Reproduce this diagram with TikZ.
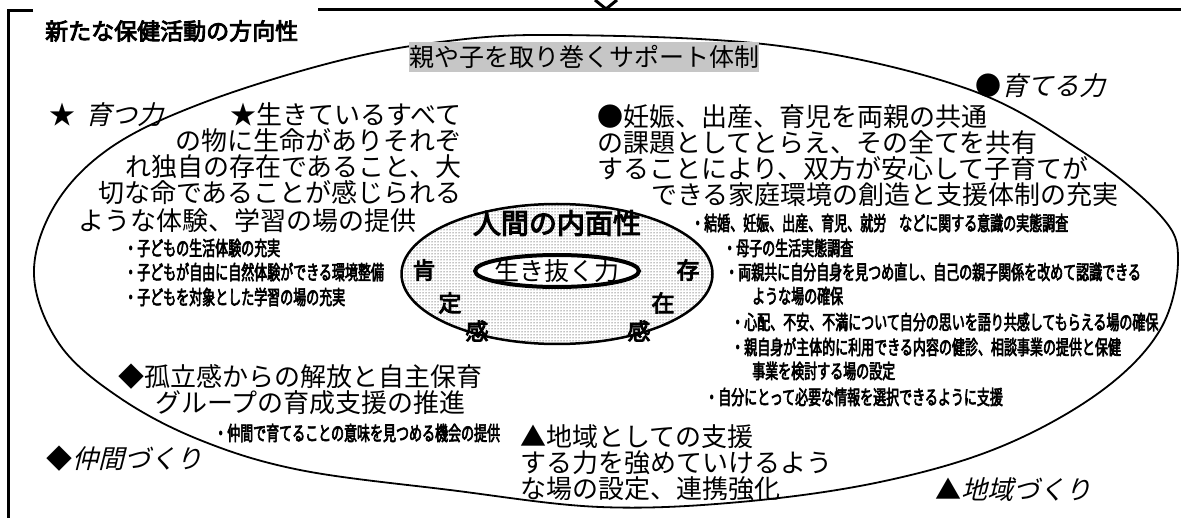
\documentclass[tikz,border=0pt]{standalone}
\usepackage{fontspec}
\setmainfont{Noto Sans CJK JP}[AutoFakeSlant=0.25, AutoFakeBold=4]
\newfontfamily\narrowjp{Noto Sans CJK JP}[FakeStretch=0.65, FakeBold=3]
\usetikzlibrary{shapes.geometric, patterns}
\tikzstyle{body} = [inner sep=0pt, font=\fontsize{26}{26}\selectfont]
\tikzstyle{note} = [inner sep=0pt, anchor=west, font=\narrowjp\fontsize{20}{24}\selectfont]
\tikzstyle{kanji} = [inner sep=0pt, font=\bfseries\fontsize{23}{23}\selectfont]

\begin{document}
\begin{tikzpicture}[x=1pt, y=-1pt]
\useasboundingbox (0,0) rectangle (1181,518);
% frame
\draw[line width=3pt] (33,11) -- (8,11) -- (8,518);
\draw[line width=3pt] (318,10) -- (1181,10);
\draw[line width=3pt] (595,0) -- (606,9) -- (617,0);
\node (title) [anchor=west, inner sep=0pt, font=\bfseries\fontsize{23}{23}\selectfont] at (45,31) {新たな保健活動の方向性};

% outer ellipse
\draw[line width=1.8pt] plot[smooth cycle, tension=0.6] coordinates {
  (560,35) (780,46) (965,88) (1080,150) (1160,215) (1178,260) (1160,330)
  (1100,392) (1000,447) (880,482) (740,502) (600,507) (450,490) (300,470)
  (200,440) (120,398) (60,345) (34,275) (55,205) (110,148) (200,104)
  (330,63) (440,42)};
\node (support) [body, font=\fontsize{25}{25}\selectfont, fill=gray!45, minimum width=348, minimum height=30] at (584,57) {親や子を取り巻くサポート体制};

% inner ellipses
\node (naimen) [ellipse, draw, line width=2.5pt, pattern=dots, minimum width=311, minimum height=140, inner sep=0pt] at (557,274) {};
\node (ikinuku) [ellipse, draw, line width=4pt, fill=white, minimum width=164, minimum height=32, inner sep=0pt] at (557,271) {};
\node (ikinukutext) [body, font=\fontsize{25}{25}\selectfont] at (ikinuku) {生き抜く力};
\node (jinkan) [kanji, font=\bfseries\fontsize{28}{28}\selectfont] at (557,223) {人間の内面性};
\node (kou) [kanji] at (424,270) {肯};
\node (tei) [kanji] at (450,303) {定};
\node (kan1) [kanji] at (477,331) {感};
\node (son) [kanji] at (688,270) {存};
\node (zai) [kanji] at (663,303) {在};
\node (kan2) [kanji] at (639,331) {感};

% left: sodatsu
\node (sodatsu) [body, anchor=west] at (49,115) {★\hspace{10pt}\itshape 育つ力};
\node (inochi) [body, anchor=north east, align=right] at (462,102) {★生きているすべて\\の物に生命がありそれぞ\\れ独自の存在であること、大\\切な命であることが感じられる};
\node (taiken) [body, anchor=west] at (78,221) {ような体験、学習の場の提供};
\node (seikatsu) [note] at (124,248) {・子どもの生活体験の充実};
\node (shizen) [note] at (124,272) {・子どもが自由に自然体験ができる環境整備};
\node (gakushu) [note] at (124,297) {・子どもを対象とした学習の場の充実};

% right: sodateru
\node (sodateru) [body, anchor=west] at (975,86) {●\itshape 育てる力};
\node (ninshin) [body, anchor=north west, align=left] at (597,104) {●妊娠、出産、育児を両親の共通\\の課題としてとらえ、その全てを共有\\することにより、双方が安心して子育てが\\\hspace*{54pt}できる家庭環境の創造と支援体制の充実};
\node (kekkon) [note] at (691,223) {・結婚、妊娠、出産、育児、就労　などに関する意識の実態調査};
\node (boshi) [note] at (723,248) {・母子の生活実態調査};
\node (ryoshin) [note] at (725,272) {・両親共に自分自身を見つめ直し、自己の親子関係を改めて認識できる};
\node (ryoshin2) [note] at (752,296) {ような場の確保};
\node (shinpai) [note] at (731,322) {・心配、不安、不満について自分の思いを語り共感してもらえる場の確保};
\node (oya) [note] at (731,347) {・親自身が主体的に利用できる内容の健診、相談事業の提供と保健};
\node (oya2) [note] at (752,371) {事業を検討する場の設定};
\node (joho) [note] at (705,397) {・自分にとって必要な情報を選択できるように支援};

% bottom left: nakama
\node (koritsu) [body, anchor=west] at (118,377) {◆孤立感からの解放と自主保育};
\node (group) [body, anchor=west] at (155,403) {グループの育成支援の推進};
\node (kikai) [note] at (214,433) {・仲間で育てることの意味を見つめる機会の提供};
\node (nakama) [body, anchor=west] at (46,459) {◆\itshape 仲間づくり};

% bottom right: chiiki
\node (shien) [body, anchor=north west, align=left] at (520,424) {▲地域としての支援\\する力を強めていけるよう\\な場の設定、連携強化};
\node (chiiki) [body, anchor=west] at (935,490) {▲\itshape 地域づくり};
\end{tikzpicture}
\end{document}
